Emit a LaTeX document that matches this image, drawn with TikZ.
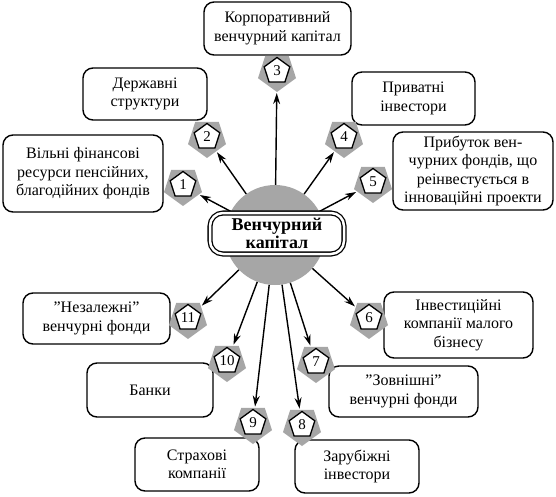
\documentclass[tikz,border=0pt]{standalone}
\usepackage{fontspec}
\setmainfont{Liberation Serif}[Ligatures=ResetAll]
\usetikzlibrary{shapes.geometric,arrows.meta}
\definecolor{shade}{RGB}{166,166,166}
\tikzset{
  box/.style={draw, line width=1.4pt, rounded corners=10pt, fill=white, align=center,
    inner sep=1pt, font=\fontsize{16}{18.5}\selectfont},
  shadowpent/.style={regular polygon, regular polygon sides=5, shape border rotate=180,
    minimum size=40pt, inner sep=0pt, fill=shade},
  numpent/.style={regular polygon, regular polygon sides=5, minimum size=27pt, inner sep=0pt,
    draw, line width=1.3pt, fill=white, font=\fontsize{15}{15}\selectfont},
  arr/.style={line width=1.4pt, -{Stealth[length=11pt,width=7pt]}, shorten >=1pt},
}
\begin{document}
\begin{tikzpicture}[x=1pt,y=-1pt]
\useasboundingbox (0,0) rectangle (556,497);
% central circle
\node[circle, fill=shade, minimum size=100pt, inner sep=0pt] (c) at (275,235) {};
% boxes
\node[box, minimum width=160pt, minimum height=77pt] (b1) at (83,173.5) {Вільні фінансові\\ресурси пенсійних,\\благодійних фондів};
\node[box, minimum width=124pt, minimum height=52pt] (b2) at (145,94) {Державні\\структури};
\node[box, minimum width=147pt, minimum height=53pt] (b3) at (277.5,28.5) {Корпоративний\\венчурний капітал};
\node[box, minimum width=123pt, minimum height=53pt] (b4) at (413.5,98.5) {Приватні\\інвестори};
\node[box, minimum width=160pt, minimum height=78pt] (b5) at (473,171) {Прибуток вен-\\чурних фондів, що\\реінвестується в\\інноваційні проекти};
\node[box, minimum width=149pt, minimum height=66pt] (b6) at (458.5,325) {Інвестиційні\\компанії малого\\бізнесу};
\node[box, minimum width=149pt, minimum height=51pt] (b7) at (403.5,391.5) {"Зовнішні"\\венчурні фонди};
\node[box, minimum width=124pt, minimum height=53pt] (b8) at (357,466.5) {Зарубіжні\\інвестори};
\node[box, minimum width=124pt, minimum height=53pt] (b9) at (197,464.5) {Страхові\\компанії};
\node[box, minimum width=126pt, minimum height=54pt] (b10) at (150,390) {Банки};
\node[box, minimum width=147pt, minimum height=51pt] (b11) at (96.5,318.5) {"Незалежні"\\венчурні фонди};
% shadow pentagons
\foreach \n/\x/\y in {1/183/185, 2/207/137, 3/277/71, 4/344/137, 5/373/182, 6/369/318,
  7/316/362, 8/302/425, 9/253/423, 10/227/361, 11/188/318}{
  \node[shadowpent] (g\n) at (\x,\y+1) {};
}
% arrows
\foreach \n in {1,...,11}{
  \draw[arr] (c) -- (g\n);
}
% central box
\node[draw, line width=1.3pt, double, double distance=2.5pt, rounded corners=13pt, fill=white,
  minimum width=134pt, minimum height=41pt, align=center, inner sep=0pt,
  font=\bfseries\fontsize{18}{18.5}\selectfont] (vc) at (277,233.5) {Венчурний\\капітал};
% number pentagons
\foreach \n/\x/\y in {1/183/185, 2/207/137, 3/277/71, 4/344/137, 5/373/182, 6/369/318,
  7/316/362, 8/302/425, 9/253/423, 10/227/361, 11/188/318}{
  \node[numpent] (p\n) at (\x,\y) {\raisebox{-1pt}{\n}};
}
\end{tikzpicture}
\end{document}
